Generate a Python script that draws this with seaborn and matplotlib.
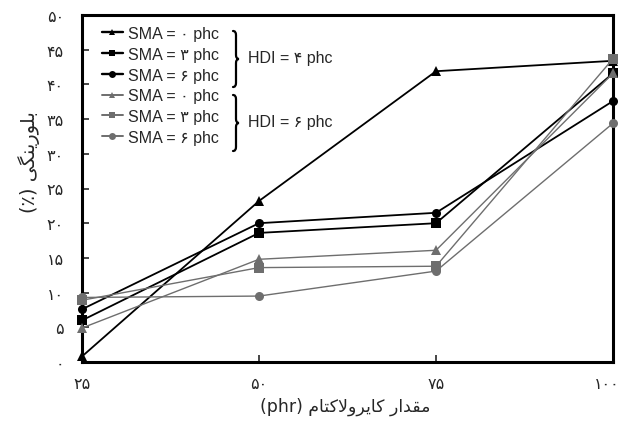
import numpy as np
import pandas as pd
import matplotlib
matplotlib.use("Agg")
import matplotlib.pyplot as plt
import matplotlib.transforms as mtransforms
from matplotlib.path import Path
from matplotlib.patches import PathPatch
from matplotlib.lines import Line2D
import seaborn as sns

# ---- data -------------------------------------------------------------
caprolactam = [25, 50, 75, 100]          # phr
hdi4_sma0 = [0.8, 23.2, 41.9, 43.4]
hdi4_sma3 = [6.0, 18.6, 20.0, 41.6]
hdi4_sma6 = [7.6, 20.0, 21.5, 37.6]
hdi6_sma0 = [4.9, 14.8, 16.1, 41.6]
hdi6_sma3 = [8.9, 13.6, 13.8, 43.7]
hdi6_sma6 = [9.3, 9.5, 13.1, 34.4]
y_ticks = list(range(0, 55, 5))
sma_levels = [0, 3, 6]
hdi_levels = [4, 6]

# ---- persian text helpers (matplotlib has no arabic shaping) ----------
FA_DIGITS = "۰۱۲۳۴۵۶۷۸۹"


def fa(n):
    return "".join(FA_DIGITS[int(c)] if c.isdigit() else c for c in str(n))


# isolated, final, initial, medial
FORMS = {
    "ا": ("\uFE8D", "\uFE8E", None, None),
    "ب": ("\uFE8F", "\uFE90", "\uFE91", "\uFE92"),
    "ت": ("\uFE95", "\uFE96", "\uFE97", "\uFE98"),
    "د": ("\uFEA9", "\uFEAA", None, None),
    "ر": ("\uFEAD", "\uFEAE", None, None),
    "ق": ("\uFED5", "\uFED6", "\uFED7", "\uFED8"),
    "ل": ("\uFEDD", "\uFEDE", "\uFEDF", "\uFEE0"),
    "م": ("\uFEE1", "\uFEE2", "\uFEE3", "\uFEE4"),
    "ن": ("\uFEE5", "\uFEE6", "\uFEE7", "\uFEE8"),
    "و": ("\uFEED", "\uFEEE", None, None),
    "ک": ("\uFB8E", "\uFB8F", "\uFB90", "\uFB91"),
    "گ": ("\uFB92", "\uFB93", "\uFB94", "\uFB95"),
    "ی": ("\uFBFC", "\uFBFD", "\uFBFE", "\uFBFF"),
    "\uFEFB": ("\uFEFB", "\uFEFC", None, None),   # lam-alef
}


def shape_word(word):
    word = word.replace("لا", "\uFEFB")
    out = []
    for i, ch in enumerate(word):
        iso, fin, ini, med = FORMS[ch]
        prev_j = i > 0 and FORMS[word[i - 1]][2] is not None
        next_j = ini is not None and i + 1 < len(word)
        if prev_j and next_j:
            out.append(med)
        elif prev_j:
            out.append(fin)
        elif next_j:
            out.append(ini)
        else:
            out.append(iso)
    return "".join(reversed(out))


def rtl(text):
    tokens = text.split(" ")
    vis = [shape_word(t) if t and t[0] in FORMS else t for t in tokens]
    return " ".join(reversed(vis))


# ---- style ------------------------------------------------------------
sns.set_style("ticks")
plt.rcParams["font.family"] = ["Liberation Sans", "DejaVu Sans"]

fig = plt.figure(figsize=(6.23, 4.31), dpi=100)
ax = fig.add_axes([82 / 623, 1 - 363 / 431, 531 / 623, 347 / 431])

BLACK = "#000000"
GRAY = "#6e6e6e"
series = [
    (hdi4_sma0, "^", BLACK, 1.3, 0),
    (hdi4_sma3, "s", BLACK, 1.3, 3),
    (hdi4_sma6, "o", BLACK, 1.3, 6),
    (hdi6_sma0, "^", GRAY, 1.0, 0),
    (hdi6_sma3, "s", GRAY, 1.0, 3),
    (hdi6_sma6, "o", GRAY, 1.0, 6),
]

handles = []
for vals, mk, col, lw, sma in series:
    df = pd.DataFrame({"x": caprolactam, "y": vals})
    sns.lineplot(data=df, x="x", y="y", ax=ax, color=col, linewidth=lw,
                 marker=mk, markersize=6.5, markeredgewidth=0,
                 markerfacecolor=col, legend=False, clip_on=False, zorder=3)
    handles.append(Line2D([], [], color=col, linewidth=lw + 0.4, marker=mk,
                          markersize=5, markeredgewidth=0,
                          label=f"SMA = {fa(sma)} phc"))

ax.set_xlim(25, 100)
ax.set_ylim(0, 50)
ax.set_xticks(caprolactam)
ax.set_xticklabels([fa(v) for v in caprolactam], family="DejaVu Sans",
                   fontsize=11.5)
ax.set_yticks(y_ticks)
ax.set_yticklabels([fa(v) for v in y_ticks], family="DejaVu Sans",
                   fontsize=11.5)
ax.tick_params(axis="y", direction="in", length=5, width=1.2, pad=13)
ax.tick_params(axis="x", direction="in", length=5, width=1.2, pad=10)
# keep the last x tick label inside the canvas
last = ax.get_xticklabels()[-1]
last.set_transform(last.get_transform() +
                   mtransforms.ScaledTranslation(-6 / 100, 0,
                                                 fig.dpi_scale_trans))
for s in ax.spines.values():
    s.set_visible(True)
    s.set_linewidth(2.2)
    s.set_color("black")

ax.set_xlabel(rtl("مقدار کایرولاکتام (phr)"), family="DejaVu Sans",
              fontsize=12.5)
ax.xaxis.set_label_coords(0.495, -0.1)
ax.set_ylabel(rtl("بلورینگی (٪)"), family="DejaVu Sans", fontsize=14)
ax.yaxis.set_label_coords(-0.08, 0.58)

leg = ax.legend(handles=handles, loc="upper left",
                bbox_to_anchor=((102 - 82) / 531, (363 - 27) / 347),
                frameon=False, fontsize=11.5, handlelength=1.3,
                handletextpad=0.3, labelspacing=0.36, borderpad=0,
                borderaxespad=0)
for t in leg.get_texts():
    t.set_family(["Liberation Sans", "DejaVu Sans"])


def px(x, y):
    return ((x - 82) / 531, (363 - y) / 347)


def brace(x, y_top, y_bot, w=6.0):
    ym = (y_top + y_bot) / 2
    xm = x + w / 2
    r = 4.0
    pts = [(x, y_top), (xm, y_top), (xm, y_top + r), (xm, ym - r),
           (xm, ym), (x + w, ym), (xm, ym), (xm, ym + r), (xm, y_bot - r),
           (xm, y_bot), (x, y_bot)]
    codes = [Path.MOVETO, Path.CURVE3, Path.CURVE3, Path.LINETO,
             Path.CURVE3, Path.CURVE3, Path.CURVE3, Path.CURVE3, Path.LINETO,
             Path.CURVE3, Path.CURVE3]
    path = Path([px(*p) for p in pts], codes)
    ax.add_patch(PathPatch(path, transform=ax.transAxes, fill=False,
                           lw=1.6, color="black", capstyle="round",
                           zorder=4))


brace(233, 32, 88)
brace(233, 96, 152)
for hdi, yc in zip(hdi_levels, [59, 123]):
    ax.text(*px(248, yc), f"HDI = {fa(hdi)} phc", transform=ax.transAxes,
            va="center", ha="left", fontsize=11.5,
            family=["Liberation Sans", "DejaVu Sans"])

fig.savefig("out.png", dpi=100)
